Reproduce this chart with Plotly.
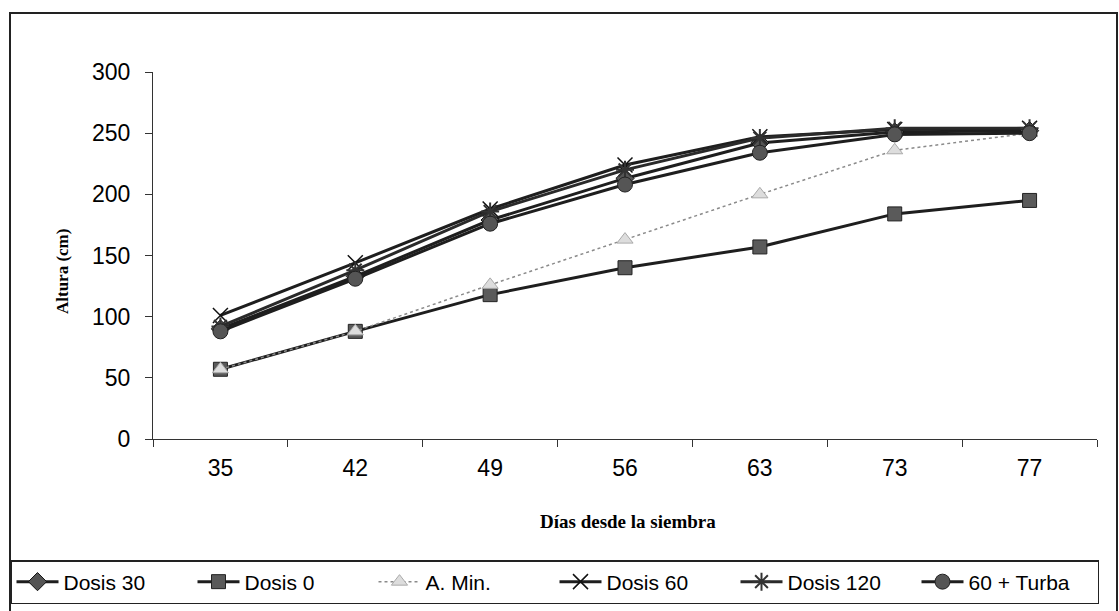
import plotly.graph_objects as go

days = ["35", "42", "49", "56", "63", "73", "77"]
dosis30 = [90, 133, 179, 213, 242, 251, 252]
dosis0 = [57, 88, 118, 140, 157, 184, 195]
amin = [57, 88, 126, 163, 200, 236, 250]
dosis60 = [101, 144, 188, 224, 247, 253, 254]
dosis120 = [92, 138, 186, 220, 246, 254, 254]
turba = [88, 131, 176, 208, 234, 249, 250]

y_ticks = [0, 50, 100, 150, 200, 250, 300]

series = [
    ("Dosis 30", dosis30, dict(color="#1e1e1e", width=3, dash="solid"),
     dict(symbol="diamond", size=14, color="#555555", line=dict(color="#111111", width=1))),
    ("Dosis 0", dosis0, dict(color="#1e1e1e", width=3, dash="solid"),
     dict(symbol="square", size=14, color="#5a5a5a", line=dict(color="#222222", width=1))),
    ("A. Min.", amin, dict(color="#8a8a8a", width=1.5, dash="dot"),
     dict(symbol="triangle-up", size=14, color="#dddddd", line=dict(color="#aaaaaa", width=1))),
    ("Dosis 60", dosis60, dict(color="#1e1e1e", width=3, dash="solid"),
     dict(symbol="x-thin-open", size=15, color="#111111", line=dict(color="#111111", width=1.5))),
    ("Dosis 120", dosis120, dict(color="#2a2a2a", width=3, dash="solid"),
     dict(symbol="asterisk-open", size=15, color="#333333", line=dict(color="#333333", width=2))),
    ("60 + Turba", turba, dict(color="#1e1e1e", width=3, dash="solid"),
     dict(symbol="circle", size=15, color="#555555", line=dict(color="#222222", width=1))),
]

fig = go.Figure()
for name, vals, ln, mk in series:
    fig.add_trace(go.Scatter(x=days, y=vals, name=name, mode="lines+markers",
                             line=ln, marker=mk))

fig.update_layout(
    width=1119, height=611,
    margin=dict(l=153, r=22, t=72, b=172, autoexpand=False),
    paper_bgcolor="white", plot_bgcolor="white",
    font=dict(family="Liberation Sans, Arial, sans-serif", color="black"),
    showlegend=True,
    legend=dict(orientation="h", x=(10 - 153) / 944, y=(439 - 560) / 367,
                xanchor="left", yanchor="top",
                bordercolor="#222222", borderwidth=1.5, bgcolor="white",
                font=dict(size=21, family="Liberation Sans, Arial, sans-serif"),
                itemwidth=42, entrywidth=124, entrywidthmode="pixels",
                tracegroupgap=0),
)

fig.update_xaxes(type="category", range=[-0.5, 6.5], showgrid=False, showline=True,
                 linecolor="#333333", linewidth=1, ticks="outside",
                 tickson="boundaries", ticklen=7, tickcolor="#333333",
                 tickfont=dict(size=23), ticklabelstandoff=8, zeroline=False)
fig.update_yaxes(range=[0, 300], tickvals=y_ticks, showgrid=False, showline=True,
                 linecolor="#333333", linewidth=1, ticks="outside", ticklen=7,
                 tickcolor="#333333", tickfont=dict(size=23), ticklabelstandoff=10,
                 zeroline=False)

fig.add_annotation(text="<b>Altura (cm)</b>", xref="paper", yref="paper",
                   x=(62 - 153) / 944, y=(439 - 272) / 367, xanchor="center",
                   yanchor="middle", textangle=-90, showarrow=False,
                   font=dict(family="Liberation Serif, Times New Roman, serif", size=17))
fig.add_annotation(text="<b>Días desde la siembra</b>", xref="paper", yref="paper",
                   x=(628 - 153) / 944, y=(439 - 521) / 367, xanchor="center",
                   yanchor="middle", showarrow=False,
                   font=dict(family="Liberation Serif, Times New Roman, serif", size=19))

fig.add_shape(type="rect", xref="paper", yref="paper",
              x0=(10 - 153) / 944, x1=(1117 - 153) / 944,
              y0=(439 - 612) / 367, y1=(439 - 13) / 367,
              line=dict(color="#222222", width=2), fillcolor="rgba(0,0,0,0)")

fig.write_html("out.html")
